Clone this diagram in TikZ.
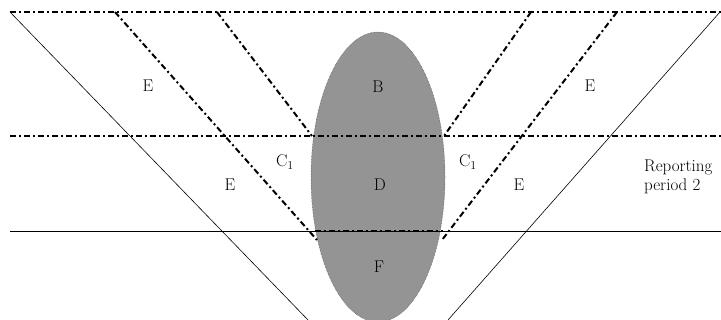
\documentclass[tikz,border=0pt]{standalone}
\usetikzlibrary{calc}
\tikzset{
	dashdot/.style={line width=2pt, dash pattern=on 6pt off 3pt on 2pt off 3pt},
	thin line/.style={line width=0.6pt},
	lbl/.style={font=\fontsize{17}{19}\selectfont, inner sep=0pt}
}

\begin{document}
\begin{tikzpicture}[x=1pt, y=-1pt]
	\useasboundingbox (0, 0) rectangle (721, 320);

	% shaded region
	\fill [black!42] (378, 177) ellipse [x radius=67, y radius=145];
	\draw [black!70, densely dotted, line width=0.5pt] (378, 177) ellipse [x radius=67, y radius=145];

	% horizontal lines
	\coordinate (TL) at (10, 12);   \coordinate (TR) at (721, 12);
	\coordinate (ML) at (10, 136);  \coordinate (MR) at (721, 136);
	\coordinate (BL) at (10, 231);  \coordinate (BR) at (721, 231);
	\draw [dashdot] (TL) -- (TR);
	\draw [dashdot] (ML) -- (MR);
	\draw [thin line] (BL) -- (BR);
	\draw [dashdot] (315, 231) -- (443, 231);

	% outer V
	\draw [thin line] (TL) -- (308, 320);
	\draw [thin line] (720, 12) -- (448, 320);

	% inner diagonals
	\draw [dashdot] (115, 12) -- (317, 240);
	\draw [dashdot] (217, 12) -- (312, 136);
	\draw [dashdot] (531, 12) -- (444, 136);
	\draw [dashdot] (617, 12) -- (442, 240);

	% labels
	\node [lbl] (e1) at (148, 86) {E};
	\node [lbl] (b)  at (378, 87) {B};
	\node [lbl] (e2) at (590, 86) {E};
	\node [lbl] (c1) at (285, 162) {C$_1$};
	\node [lbl] (c2) at (468, 162) {C$_1$};
	\node [lbl] (e3) at (230, 185) {E};
	\node [lbl] (d)  at (380, 185) {D};
	\node [lbl] (e4) at (519, 185) {E};
	\node [lbl] (f)  at (379, 267) {F};
	\node [lbl, align=left, anchor=west] (rp) at (644, 177) {Reporting\\period 2};
\end{tikzpicture}
\end{document}
